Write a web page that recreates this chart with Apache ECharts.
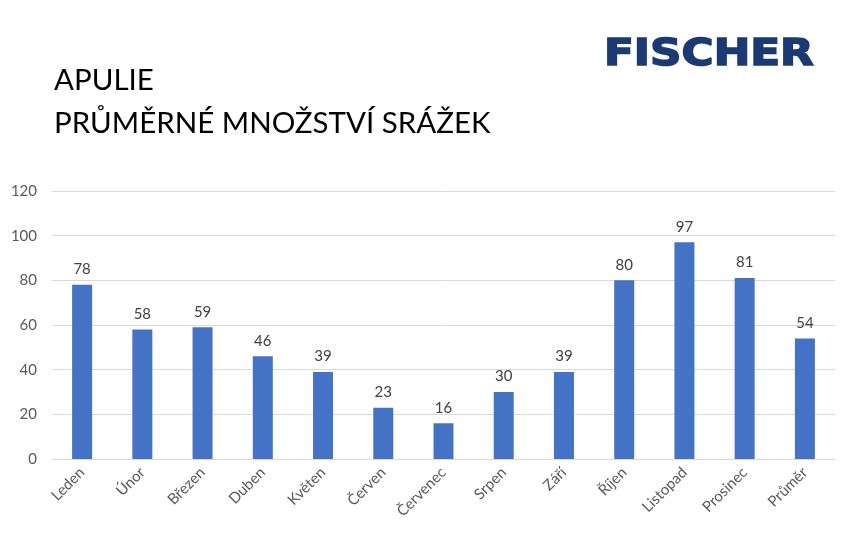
<!DOCTYPE html>
<html><head><meta charset="utf-8">
<script src="https://cdn.jsdelivr.net/npm/echarts@6/dist/echarts.min.js"></script>
<style>html,body{margin:0;padding:0;background:#fff}#c{width:850px;height:546px}</style>
</head><body><div id="c"></div>
<script>
const categories = ['Leden','Únor','Březen','Duben','Květen','Červen','Červenec','Srpen','Září','Říjen','Listopad','Prosinec','Průměr'];
const rainfall = [78,58,59,46,39,23,16,30,39,80,97,81,54];
const yTicks = {min:0, max:120, interval:20};
const titleLines = ['APULIE','PRŮMĚRNÉ MNOŽSTVÍ SRÁŽEK'];
const logoText = 'FISCHER';

const chart = echarts.init(document.getElementById('c'));
chart.setOption({
  animation:false,
  backgroundColor:'#fff',
  textStyle:{fontFamily:'Lato'},
  graphic:[
    {type:'text', left:54, top:65, style:{text:titleLines[0], font:'29.5px Lato', fill:'#000'}},
    {type:'text', left:54, top:108, style:{text:titleLines[1], font:'29.5px Lato', fill:'#000'}},
    {type:'text', x:604, y:36, scaleX:1.15, style:{text:logoText, font:'bold 38px "DejaVu Sans"', fill:'#1b3a73', stroke:'#1b3a73', lineWidth:1.6}}
  ],
  grid:{left:52, right:15, top:191, bottom:87},
  xAxis:{type:'category', data:categories,
    axisLine:{lineStyle:{color:'#d9d9d9'}}, axisTick:{show:false},
    axisLabel:{rotate:45, color:'#595959', fontSize:15, margin:11, interval:0}},
  yAxis:{type:'value', min:yTicks.min, max:yTicks.max, interval:yTicks.interval,
    axisLine:{show:false}, axisTick:{show:false},
    splitLine:{lineStyle:{color:'#d9d9d9'}},
    axisLabel:{color:'#595959', fontSize:15, margin:15}},
  series:[{type:'bar', data:rainfall, barWidth:20, itemStyle:{color:'#4472c4'},
    label:{show:true, position:'top', color:'#404040', fontSize:15, distance:8}}]
});
</script></body></html>
